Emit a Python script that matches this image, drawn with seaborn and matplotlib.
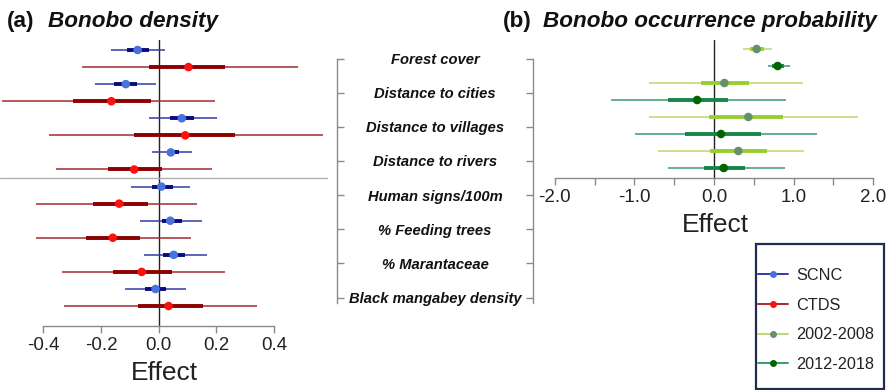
import numpy as np
import pandas as pd
import matplotlib
matplotlib.use("Agg")
import matplotlib.pyplot as plt
from matplotlib.lines import Line2D
from matplotlib.patches import Rectangle
import seaborn as sns

# ---------------- data ----------------
covariates = ["Forest cover", "Distance to cities", "Distance to villages",
              "Distance to rivers", "Human signs/100m", "% Feeding trees",
              "% Marantaceae", "Black mangabey density"]

# (a) bonobo density: posterior mean, 95% and 50% intervals
scnc_mean = [-0.073, -0.114, 0.080, 0.042, 0.009, 0.040, 0.052, -0.011]
scnc_lo95 = [-0.164, -0.219, -0.035, -0.022, -0.095, -0.064, -0.051, -0.115]
scnc_hi95 = [0.022, -0.010, 0.202, 0.114, 0.110, 0.150, 0.167, 0.094]
scnc_lo50 = [-0.109, -0.154, 0.040, 0.028, -0.024, 0.012, 0.016, -0.047]
scnc_hi50 = [-0.033, -0.075, 0.123, 0.071, 0.048, 0.080, 0.092, 0.027]

ctds_mean = [0.103, -0.164, 0.092, -0.085, -0.137, -0.159, -0.059, 0.034]
ctds_lo95 = [-0.266, -0.543, -0.381, -0.355, -0.424, -0.424, -0.336, -0.328]
ctds_hi95 = [0.484, 0.196, 0.568, 0.183, 0.131, 0.113, 0.230, 0.342]
ctds_lo50 = [-0.033, -0.297, -0.085, -0.177, -0.226, -0.251, -0.157, -0.073]
ctds_hi50 = [0.231, -0.027, 0.265, 0.012, -0.036, -0.064, 0.047, 0.153]

# (b) bonobo occurrence probability (first four covariates)
p1_mean = [0.536, 0.130, 0.431, 0.306]
p1_lo95 = [0.368, -0.817, -0.817, -0.700]
p1_hi95 = [0.725, 1.115, 1.814, 1.131]
p1_lo50 = [0.450, -0.165, -0.063, -0.050]
p1_hi50 = [0.630, 0.440, 0.865, 0.665]

p2_mean = [0.800, -0.212, 0.088, 0.122]
p2_lo95 = [0.674, -1.294, -0.995, -0.583]
p2_hi95 = [0.955, 0.905, 1.300, 0.898]
p2_lo50 = [0.730, -0.583, -0.362, -0.130]
p2_hi50 = [0.880, 0.172, 0.590, 0.385]

series_a = ["SCNC", "CTDS"]
series_b = ["2002-2008", "2012-2018"]

# ---------------- styling ----------------
styles = {
    "SCNC":      dict(thin="#2f3aa8", thick="#0a0a80", point="#4a72dc"),
    "CTDS":      dict(thin="#a52a2f", thick="#8b0000", point="#ff1010"),
    "2002-2008": dict(thin="#bcd870", thick="#9acd32", point="#64906a"),
    "2012-2018": dict(thin="#3a9a70", thick="#17854a", point="#006400"),
}

sns.set_theme(style="white")
plt.rcParams["font.family"] = ["Liberation Sans", "DejaVu Sans"]

W, H = 891, 390
fig = plt.figure(figsize=(W / 100, H / 100), dpi=100)


def rect(x0, y0, x1, y1):
    """pixel box (top-left origin) -> figure fraction [l, b, w, h]"""
    return [x0 / W, 1 - y1 / H, (x1 - x0) / W, (y1 - y0) / H]


def long_table(names, means, lo95, hi95, lo50, hi50):
    rows = []
    n = len(names)
    for k in range(len(means[0])):
        for s in range(n):
            rows.append(dict(series=names[s], row=2 * k + s, mean=means[s][k],
                             lo95=lo95[s][k], hi95=hi95[s][k],
                             lo50=lo50[s][k], hi50=hi50[s][k]))
    return pd.DataFrame(rows)


df_a = long_table(series_a, [scnc_mean, ctds_mean], [scnc_lo95, ctds_lo95],
                  [scnc_hi95, ctds_hi95], [scnc_lo50, ctds_lo50], [scnc_hi50, ctds_hi50])
df_b = long_table(series_b, [p1_mean, p2_mean], [p1_lo95, p2_lo95],
                  [p1_hi95, p2_hi95], [p1_lo50, p2_lo50], [p1_hi50, p2_hi50])


def draw_intervals(ax, df, ms):
    for name, g in df.groupby("series", sort=False):
        st = styles[name]
        ax.hlines(g["row"], g["lo95"], g["hi95"], color=st["thin"], lw=1.1, zorder=2)
        ax.hlines(g["row"], g["lo50"], g["hi50"], color=st["thick"], lw=2.8, zorder=3)
    sns.scatterplot(data=df, x="mean", y="row", hue="series",
                    palette={k: styles[k]["point"] for k in df["series"].unique()},
                    s=ms, linewidth=0, legend=False, zorder=4, ax=ax)


def style_effect_axis(ax, lo, hi):
    for sp in ["top", "right", "left"]:
        ax.spines[sp].set_visible(False)
    ax.spines["bottom"].set_color("#8a8a8a")
    ax.spines["bottom"].set_linewidth(1.0)
    ax.spines["bottom"].set_bounds(lo, hi)
    ax.set_yticks([])
    ax.set_ylabel("")
    ax.tick_params(axis="x", which="both", bottom=True, direction="out",
                   length=5, width=1.0, color="#8a8a8a",
                   labelsize=13.5, labelcolor="#222222", pad=3)
    ax.set_xlabel("Effect", fontsize=19, color="#222222", labelpad=5)
    ax.set_facecolor("none")


# ---------------- (a) Bonobo density ----------------
ax_a = fig.add_axes(rect(0, 40, 328, 326))
draw_intervals(ax_a, df_a, ms=38)
px_per_unit_a = 288.75
ax_a.set_xlim((0 - 158.7) / px_per_unit_a, (328 - 158.7) / px_per_unit_a)
ax_a.set_ylim((326 - 50) / 17.07, (40 - 50) / 17.07)
ax_a.axvline(0, color="#222222", lw=1.0, zorder=1)
ax_a.axhline(7.5, color="#b0b0b0", lw=1.0, zorder=1)
ax_a.set_xticks([-0.4, -0.2, 0.0, 0.2, 0.4])
ax_a.set_xticklabels(["-0.4", "-0.2", "0.0", "0.2", "0.4"])
style_effect_axis(ax_a, -0.4, 0.4)

# ---------------- covariate labels (bracketed) ----------------
ax_m = fig.add_axes(rect(337, 40, 533, 326))
ax_m.set_xlim(0, 1)
ax_m.set_ylim(ax_a.get_ylim())
ax_m.set_facecolor("none")
for sp in ["top", "bottom"]:
    ax_m.spines[sp].set_visible(False)
for sp in ["left", "right"]:
    ax_m.spines[sp].set_color("#8a8a8a")
    ax_m.spines[sp].set_linewidth(1.0)
    ax_m.spines[sp].set_bounds(0.5, 14.85)
label_rows = [0.5 + 2 * k for k in range(len(covariates))]
ax_m.set_yticks(label_rows)
ax_m.set_yticklabels([])
ax_m.set_xticks([])
ax_m.tick_params(axis="y", which="both", left=True, right=True, direction="in",
                 length=5, width=1.0, color="#8a8a8a")
for yv, lab in zip(label_rows, covariates):
    ax_m.text(0.5, yv, lab, ha="center", va="center_baseline", fontsize=10.6,
              fontweight="bold", fontstyle="italic", color="#111111")

# ---------------- (b) Bonobo occurrence probability ----------------
ax_b = fig.add_axes(rect(545, 40, 885, 178))
draw_intervals(ax_b, df_b, ms=38)
px_per_unit_b = 79.58
ax_b.set_xlim((545 - 714) / px_per_unit_b, (885 - 714) / px_per_unit_b)
ax_b.set_ylim((178 - 49) / 17.0, (40 - 49) / 17.0)
ax_b.axvline(0, color="#222222", lw=1.0, zorder=1)
ax_b.set_xticks([-2.0, -1.0, 0.0, 1.0, 2.0])
ax_b.set_xticklabels(["-2.0", "-1.0", "0.0", "1.0", "2.0"])
ax_b.set_xticks([-1.5, -0.5, 0.5, 1.5], minor=True)
style_effect_axis(ax_b, -2.0, 2.0)

# ---------------- titles ----------------
def ypx(y):
    return 1 - y / H

fig.text(7 / W, ypx(27), "(a)", fontsize=16.2, fontweight="bold", color="#111111", va="baseline")
fig.text(48 / W, ypx(27), "Bonobo density", fontsize=16.2, fontweight="bold",
         fontstyle="italic", color="#111111", va="baseline")
fig.text(503 / W, ypx(27), "(b)", fontsize=16.2, fontweight="bold", color="#111111", va="baseline")
fig.text(543 / W, ypx(27), "Bonobo occurrence probability", fontsize=16.2, fontweight="bold",
         fontstyle="italic", color="#111111", va="baseline")

# ---------------- legend ----------------
handles = [Line2D([0], [0], color=styles[k]["thin"], lw=1.4, marker="o",
                  markersize=5, markerfacecolor=styles[k]["point"],
                  markeredgewidth=0) for k in series_a + series_b]
fig.patches.append(Rectangle((756 / W, 1 - 389 / H), 128 / W, 145 / H,
                             transform=fig.transFigure, fill=False,
                             edgecolor="#1e2d4d", lw=1.6, zorder=5))
fig.legend(handles, series_a + series_b, loc="upper left",
           bbox_to_anchor=(758 / W, ypx(268)), frameon=False, fontsize=11.7,
           handlelength=1.85, handletextpad=0.5, labelspacing=0.9,
           borderpad=0, borderaxespad=0, labelcolor="#222222")

fig.savefig("out.png", dpi=100)
